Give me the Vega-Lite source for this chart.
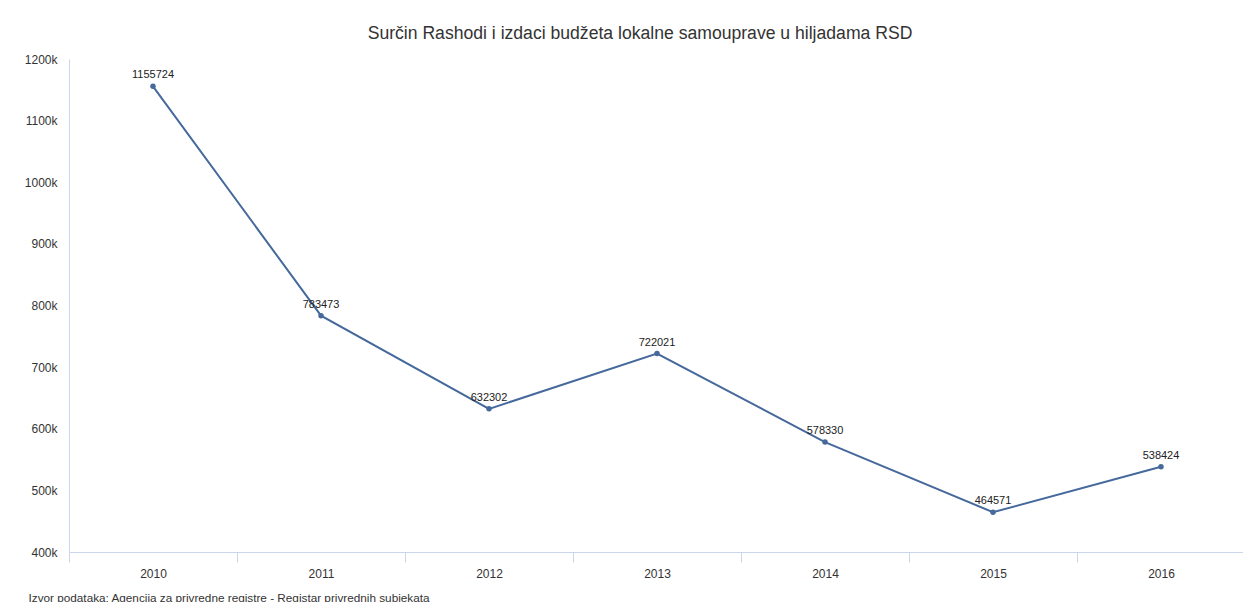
{
  "$schema": "https://vega.github.io/schema/vega-lite/v6.json",
  "autosize": "none",
  "width": 1176,
  "height": 493,
  "padding": {"left": 69, "top": 59, "right": 0, "bottom": 50},
  "background": "white",
  "config": {
    "font": "Liberation Sans",
    "view": {"stroke": null}
  },
  "title": {
    "text": "Surčin Rashodi i izdaci budžeta lokalne samouprave u hiljadama RSD",
    "fontSize": 17.6,
    "fontWeight": "normal",
    "color": "#333333",
    "anchor": "middle",
    "frame": "group",
    "dx": -17,
    "offset": 10
  },
  "data": {
    "values": [
      {"year": "2010", "value": 1155724},
      {"year": "2011", "value": 783473},
      {"year": "2012", "value": 632302},
      {"year": "2013", "value": 722021},
      {"year": "2014", "value": 578330},
      {"year": "2015", "value": 464571},
      {"year": "2016", "value": 538424}
    ]
  },
  "encoding": {
    "x": {
      "field": "year",
      "type": "ordinal",
      "scale": {"paddingInner": 0, "paddingOuter": 0},
      "axis": {
        "title": "Izvor podataka: Agencija za privredne registre - Registar privrednih subjekata",
        "titleFontSize": 11.75,
        "titleFontWeight": "normal",
        "titleColor": "#333333",
        "titleAnchor": "start",
        "titleAlign": "left",
        "titleBaseline": "bottom",
        "titleX": -41,
        "titleY": 51,
        "labelAngle": 0,
        "labelFontSize": 12,
        "labelColor": "#333333",
        "labelPadding": 6,
        "domainColor": "#ccd6eb",
        "domainWidth": 1,
        "tickColor": "#ccd6eb",
        "tickBand": "extent",
        "tickSize": 10,
        "grid": false
      }
    },
    "y": {
      "field": "value",
      "type": "quantitative",
      "scale": {"domain": [400000, 1200000], "nice": false, "zero": false},
      "axis": {
        "title": null,
        "values": [400000, 500000, 600000, 700000, 800000, 900000, 1000000, 1100000, 1200000],
        "labelExpr": "datum.value / 1000 + 'k'",
        "labelFontSize": 12,
        "labelColor": "#333333",
        "labelPadding": 12,
        "ticks": false,
        "grid": false,
        "domainColor": "#ccd6eb",
        "domainWidth": 1
      }
    }
  },
  "layer": [
    {
      "mark": {"type": "line", "color": "#46699c", "strokeWidth": 2},
      "encoding": {}
    },
    {
      "mark": {"type": "point", "filled": true, "color": "#46699c", "size": 30, "opacity": 1},
      "encoding": {}
    },
    {
      "mark": {"type": "text", "dy": -11, "fontSize": 11, "color": "#222222"},
      "encoding": {"text": {"field": "value", "type": "quantitative", "format": "d"}}
    }
  ]
}
